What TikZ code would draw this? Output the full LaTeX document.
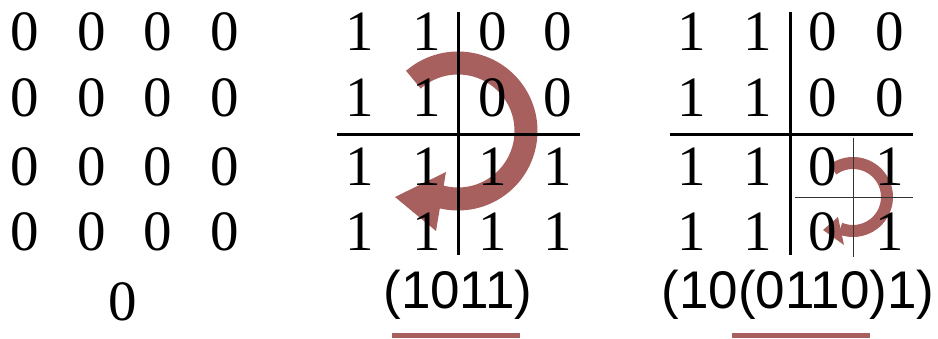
\documentclass[tikz,border=0pt]{standalone}
\usepackage{fontspec}
\setmainfont{Liberation Serif}
\newfontfamily\lblfont{Liberation Sans}
\begin{document}
\begin{tikzpicture}[x=1pt,y=1pt,
  dig/.style={inner sep=0pt,font=\fontsize{57}{60}\selectfont},
  lbl/.style={inner sep=0pt,anchor=base,font=\lblfont\fontsize{53}{56}\selectfont},
  thick line/.style={line width=3pt,black},
  thin line/.style={line width=0.8pt,black!80},
  rot/.style={fill=arrowred}]
\definecolor{arrowred}{RGB}{168,96,94}
\useasboundingbox (0,0) rectangle (938,338);
% arrows (behind)
\coordinate (cB) at (458,207);
\draw[arrowred,line width=23pt] (cB) ++(131:68) arc[start angle=131,end angle=-106,radius=68];
\fill[rot] (446,166) -- (436,107) -- (395,141) -- cycle;
\coordinate (cS) at (853,141);
\draw[arrowred,line width=12pt] (cS) ++(126:34) arc[start angle=126,end angle=-112,radius=34];
\fill[rot] (838,121) -- (844,93) -- (823,108) -- cycle;
% underline bars
\fill[rot] (392,0) rectangle (520,5);
\fill[rot] (732,0) rectangle (870,5);
% left matrix
\foreach \x [count=\i] in {25,92,158,225}
  \foreach \y [count=\j] in {306,240,171,106}
    \node[dig] (l\i\j) at (\x,\y) {0};
\node[dig] (l0) at (123,36) {0};
% middle matrix
\foreach \x/\c in {360/a,427/b}
  \foreach \y/\r in {306/a,240/b,171/c,106/d}
    \node[dig] (m\c\r) at (\x,\y) {1};
\node[dig] (mca) at (493,306) {0};
\node[dig] (mda) at (558,306) {0};
\node[dig] (mcb) at (493,240) {0};
\node[dig] (mdb) at (558,240) {0};
\node[dig] (mcc) at (493,171) {1};
\node[dig] (mdc) at (558,171) {1};
\node[dig] (mcd) at (493,106) {1};
\node[dig] (mdd) at (558,106) {1};
\draw[thick line] (458,326) -- (458,83);
\draw[thick line] (337,203) -- (580,203);
\node[lbl] (mlbl) at (458,30) {(1011)};
% right matrix
\foreach \x/\c in {692/a,758/b}
  \foreach \y/\r in {306/a,240/b,171/c,106/d}
    \node[dig] (r\c\r) at (\x,\y) {1};
\node[dig] (rca) at (823,306) {0};
\node[dig] (rda) at (890,306) {0};
\node[dig] (rcb) at (823,240) {0};
\node[dig] (rdb) at (890,240) {0};
\node[dig] (rcc) at (823,171) {0};
\node[dig] (rdc) at (890,171) {1};
\node[dig] (rcd) at (823,106) {0};
\node[dig] (rdd) at (890,106) {1};
\draw[thick line] (790,326) -- (790,83);
\draw[thick line] (670,203) -- (913,203);
\draw[thin line] (853,200) -- (853,81);
\draw[thin line] (795,141) -- (913,141);
\node[lbl] (rlbl) at (798,30) {(10(0110)1)};
\end{tikzpicture}
\end{document}
